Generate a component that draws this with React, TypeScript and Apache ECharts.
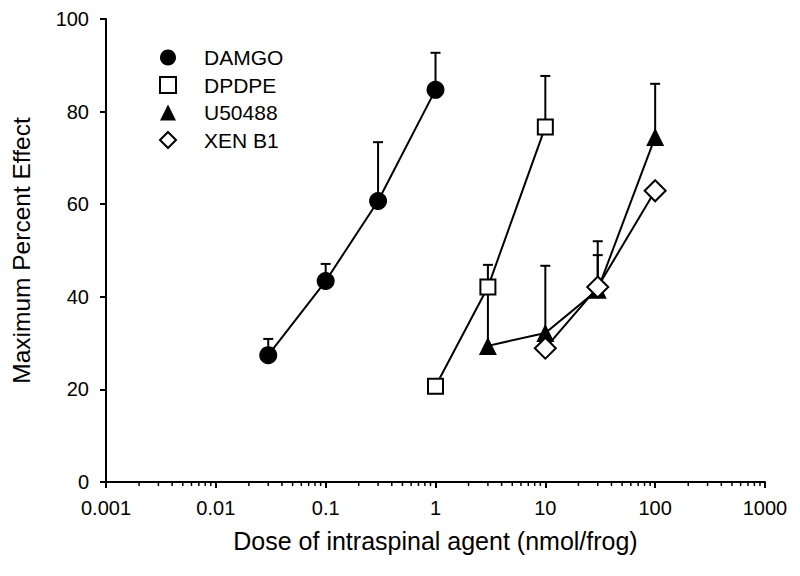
import React, { useEffect, useRef } from "react";
import * as echarts from "echarts";

// Dose (nmol/frog), mean maximum percent effect, and upper end of error bar
const damgoDose = [0.03, 0.1, 0.3, 1];
const damgoEffect = [27.4, 43.4, 60.7, 84.7];
const damgoUpper = [30.9, 47.1, 73.4, 92.7];

const dpdpeDose = [1, 3, 10];
const dpdpeEffect = [20.7, 42.1, 76.7];
const dpdpeUpper = [20.7, 46.9, 87.7];

const u50488Dose = [3, 10, 30, 100];
const u50488Effect = [29.4, 32.2, 41.5, 74.5];
const u50488Upper = [42.0, 46.7, 49.0, 86.0];

const xenDose = [10, 30, 100];
const xenEffect = [28.9, 42.1, 62.9];
const xenUpper = [28.9, 52.0, 62.9];

const xTickLabels: Record<string, string> = {
  "0.001": "0.001",
  "0.01": "0.01",
  "0.1": "0.1",
  "1": "1",
  "10": "10",
  "100": "100",
  "1000": "1000",
};
const decades = [0.001, 0.01, 0.1, 1, 10, 100];
const minorMultipliers = [2, 3, 4, 5, 6, 7, 8, 9];

const FONT = "'Liberation Sans', Arial, sans-serif";

function pts(x: number[], y: number[]) {
  return x.map((v, i) => [v, y[i]]);
}
function errs(x: number[], y: number[], up: number[]) {
  return x.map((v, i) => [v, y[i], up[i]]).filter((d) => d[2] > d[1]);
}

const errRender = (params: any, api: any) => {
  const x = api.value(0);
  const y = api.value(1);
  const top = api.value(2);
  const p0 = api.coord([x, y]);
  const p1 = api.coord([x, top]);
  const style = { stroke: "#000", lineWidth: 2 };
  return {
    type: "group",
    children: [
      { type: "line", shape: { x1: p0[0], y1: p0[1], x2: p1[0], y2: p1[1] }, style },
      { type: "line", shape: { x1: p1[0] - 5, y1: p1[1], x2: p1[0] + 5, y2: p1[1] }, style },
    ],
  };
};

export default function App() {
  const ref = useRef<HTMLDivElement>(null);
  useEffect(() => {
    document.body.style.margin = "0";
    if (!ref.current) return;
    const chart = echarts.init(ref.current, undefined, { renderer: "svg" });
    const minorTicks: number[][] = [];
    decades.forEach((d) => minorMultipliers.forEach((m) => minorTicks.push([d * m, 0])));

    const lineStyle = { color: "#000", width: 2 };
    const mkLine = (name: string, data: number[][], symbol: string, size: number, fill: string) => ({
      type: "line",
      name,
      data,
      symbol,
      symbolSize: size,
      lineStyle,
      itemStyle: { color: fill, borderColor: "#000", borderWidth: fill === "#fff" ? 2 : 0 },
      z: 3,
      clip: false,
    });
    const mkErr = (name: string, data: number[][]) => ({
      type: "custom",
      name: name + " error",
      data,
      renderItem: errRender,
      z: 1,
      clip: false,
      silent: true,
    });

    chart.setOption({
      animation: false,
      backgroundColor: "#fff",
      textStyle: { fontFamily: FONT, color: "#000" },
      grid: { left: 106, right: 35, top: 19, bottom: 94, containLabel: false },
      legend: {
        orient: "vertical",
        left: 154,
        top: 42,
        itemWidth: 16,
        itemHeight: 16,
        itemGap: 6.5,
        textStyle: { fontFamily: FONT, fontSize: 21, color: "#000", padding: [0, 0, 0, 23] },
        data: [
          { name: "DAMGO", icon: "circle", itemStyle: { color: "#000", borderColor: "#000", borderWidth: 0 } },
          { name: "DPDPE", icon: "rect", itemStyle: { color: "#fff", borderColor: "#000", borderWidth: 2 } },
          { name: "U50488", icon: "triangle", itemStyle: { color: "#000", borderColor: "#000", borderWidth: 0 } },
          { name: "XEN B1", icon: "diamond", itemStyle: { color: "#fff", borderColor: "#000", borderWidth: 2 } },
        ],
      },
      xAxis: {
        type: "log",
        logBase: 10,
        min: 0.001,
        max: 1000,
        name: "Dose of intraspinal agent (nmol/frog)",
        nameLocation: "middle",
        nameGap: 46,
        nameTextStyle: { fontFamily: FONT, fontSize: 25, color: "#000" },
        axisLine: { lineStyle: { color: "#000", width: 2 } },
        axisTick: { show: true, inside: false, length: 6, lineStyle: { color: "#000", width: 2 } },
        axisLabel: {
          fontFamily: FONT,
          fontSize: 20,
          color: "#000",
          margin: 16,
          formatter: (v: number) => {
            const k = String(Number(v.toPrecision(3)));
            return xTickLabels[k] ?? k;
          },
        },
        splitLine: { show: false },
        minorTick: { show: false },
      },
      yAxis: {
        type: "value",
        min: 0,
        max: 100,
        interval: 20,
        name: "Maximum Percent Effect",
        nameLocation: "middle",
        nameGap: 72,
        nameRotate: 90,
        nameTextStyle: { fontFamily: FONT, fontSize: 24.5, color: "#000" },
        axisLine: { show: true, lineStyle: { color: "#000", width: 2 } },
        axisTick: { show: true, inside: false, length: 6, lineStyle: { color: "#000", width: 2 } },
        axisLabel: { fontFamily: FONT, fontSize: 20, color: "#000", margin: 17 },
        splitLine: { show: false },
      },
      series: [
        {
          type: "custom",
          name: "minor ticks",
          data: minorTicks,
          silent: true,
          clip: false,
          z: 0,
          renderItem: (params: any, api: any) => {
            const p = api.coord([api.value(0), 0]);
            return {
              type: "line",
              shape: { x1: p[0], y1: p[1], x2: p[0], y2: p[1] + 4 },
              style: { stroke: "#000", lineWidth: 1.5 },
            };
          },
        },
        mkErr("DAMGO", errs(damgoDose, damgoEffect, damgoUpper)),
        mkErr("DPDPE", errs(dpdpeDose, dpdpeEffect, dpdpeUpper)),
        mkErr("U50488", errs(u50488Dose, u50488Effect, u50488Upper)),
        mkErr("XEN B1", errs(xenDose, xenEffect, xenUpper)),
        mkLine("DAMGO", pts(damgoDose, damgoEffect), "circle", 18, "#000"),
        mkLine("DPDPE", pts(dpdpeDose, dpdpeEffect), "rect", 15, "#fff"),
        mkLine("U50488", pts(u50488Dose, u50488Effect), "triangle", 18, "#000"),
        mkLine("XEN B1", pts(xenDose, xenEffect), "diamond", 21, "#fff"),
      ],
    });
    return () => chart.dispose();
  }, []);
  return <div ref={ref} style={{ width: 800, height: 576 }} />;
}
